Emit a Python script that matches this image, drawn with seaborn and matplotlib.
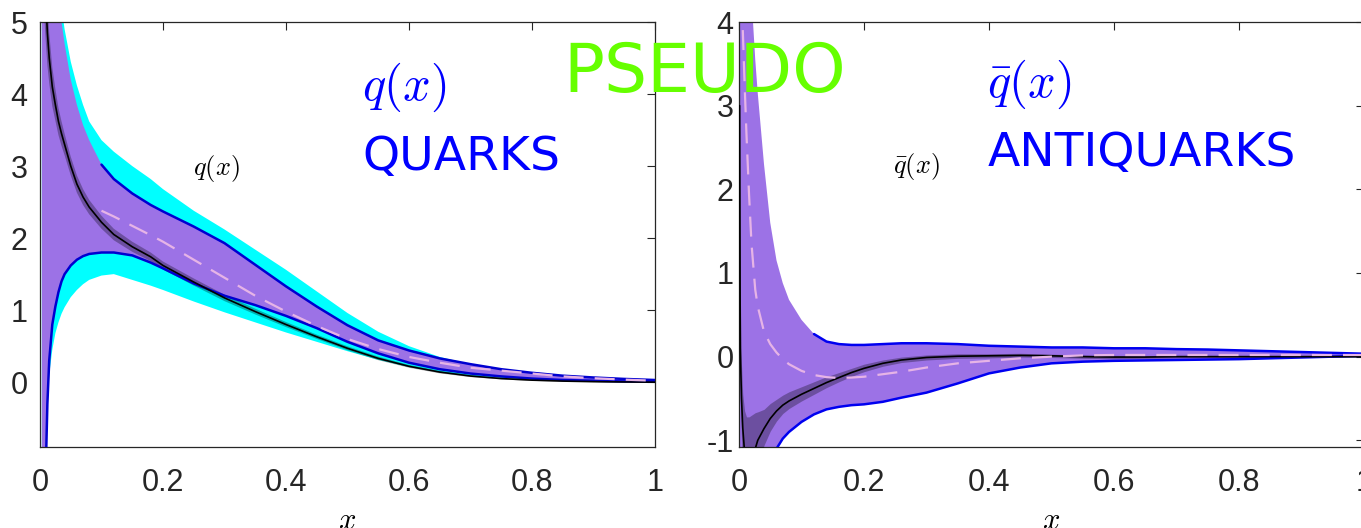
import numpy as np
import matplotlib
matplotlib.use("Agg")
import matplotlib.pyplot as plt
import seaborn as sns

# ---------------- data: left panel (quarks) ----------------
xq = [0.003, 0.006, 0.01, 0.012, 0.015, 0.02, 0.025, 0.03, 0.035, 0.04, 0.05, 0.06, 0.07, 0.08,
      0.10, 0.12, 0.15, 0.18, 0.20, 0.25, 0.30, 0.35, 0.40, 0.45, 0.50, 0.55, 0.60, 0.65, 0.70,
      0.75, 0.80, 0.85, 0.90, 0.95, 1.00]
q_cyan_up = [9.0, 9.0, 9.0, 8.5, 8.0, 7.0, 6.2, 5.6, 5.2, 4.9, 4.45, 4.12, 3.85, 3.62, 3.36, 3.2,
             3.0, 2.82, 2.68, 2.38, 2.12, 1.84, 1.56, 1.26, 0.96, 0.7, 0.5, 0.35, 0.25, 0.18,
             0.125, 0.09, 0.065, 0.047, 0.035]
q_cyan_lo = [-4.0, -3.0, -1.0, -0.4, 0.1, 0.45, 0.68, 0.83, 0.95, 1.04, 1.18, 1.28, 1.36, 1.42,
             1.48, 1.5, 1.42, 1.34, 1.28, 1.12, 0.97, 0.83, 0.69, 0.56, 0.43, 0.31, 0.21, 0.14,
             0.09, 0.06, 0.04, 0.025, 0.015, 0.008, 0.004]
q_purple_up = [9.0, 9.0, 9.0, 8.5, 8.0, 7.0, 6.0, 5.4, 5.0, 4.7, 4.2, 3.85, 3.57, 3.36, 3.02, 2.82,
               2.62, 2.46, 2.37, 2.16, 1.93, 1.63, 1.33, 1.05, 0.79, 0.58, 0.44, 0.33, 0.25, 0.18,
               0.13, 0.09, 0.065, 0.045, 0.03]
q_purple_lo = [-4.0, -3.0, -1.0, -0.3, 0.3, 0.8, 1.05, 1.25, 1.4, 1.5, 1.62, 1.7, 1.75, 1.78, 1.8,
               1.8, 1.76, 1.66, 1.58, 1.37, 1.2, 1.07, 0.92, 0.75, 0.56, 0.4, 0.27, 0.18, 0.12,
               0.08, 0.05, 0.03, 0.02, 0.01, 0.005]
q_black = [7.0, 6.0, 5.2, 4.85, 4.5, 4.1, 3.85, 3.62, 3.45, 3.3, 3.0, 2.75, 2.57, 2.43, 2.22, 2.05,
           1.88, 1.74, 1.62, 1.39, 1.17, 0.98, 0.8, 0.63, 0.47, 0.33, 0.22, 0.14, 0.085, 0.05,
           0.028, 0.015, 0.007, 0.003, 0.0]
q_black_err = [1.0, 0.8, 0.55, 0.45, 0.35, 0.27, 0.22, 0.19, 0.17, 0.15, 0.13, 0.12, 0.11, 0.1,
               0.09, 0.08, 0.07, 0.06, 0.055, 0.05, 0.045, 0.04, 0.035, 0.03, 0.028, 0.025, 0.02,
               0.018, 0.015, 0.012, 0.01, 0.008, 0.006, 0.005, 0.004]
nan = np.nan
q_dashed = [nan] * 14 + [2.38, 2.3, 2.17, 2.04, 1.95, 1.7, 1.45, 1.2, 0.98, 0.78, 0.6, 0.46, 0.35,
                         0.27, 0.2, 0.16, 0.12, 0.08, 0.055, 0.035, 0.02]

# ---------------- data: right panel (antiquarks) ----------------
xa = [0.001, 0.002, 0.004, 0.006, 0.009, 0.012, 0.016, 0.02, 0.026, 0.03, 0.04, 0.05, 0.06, 0.07,
      0.08, 0.10, 0.12, 0.14, 0.16, 0.18, 0.20, 0.23, 0.26, 0.30, 0.35, 0.40, 0.45, 0.50, 0.55,
      0.60, 0.65, 0.70, 0.75, 0.80, 0.85, 0.90, 0.95, 1.00]
a_purple_up = [9.0, 9.0, 8.5, 7.8, 7.0, 6.2, 5.3, 4.3, 3.55, 3.15, 2.3, 1.6, 1.15, 0.88, 0.68,
               0.44, 0.27, 0.18, 0.15, 0.14, 0.14, 0.15, 0.16, 0.16, 0.15, 0.13, 0.12, 0.11, 0.11,
               0.1, 0.1, 0.09, 0.085, 0.075, 0.065, 0.055, 0.045, 0.035]
a_purple_lo = [-4.0, -4.0, -4.0, -4.0, -4.0, -4.0, -4.0, -3.5, -3.0, -2.6, -2.0, -1.4, -1.1, -0.98,
               -0.9, -0.78, -0.69, -0.63, -0.6, -0.58, -0.57, -0.54, -0.49, -0.43, -0.32, -0.2,
               -0.13, -0.08, -0.06, -0.05, -0.045, -0.04, -0.035, -0.03, -0.02, -0.01, 0.0, 0.01]
a_black = [3.0, 0.1, -0.5, -0.85, -1.15, -1.4, -1.5, -1.4, -1.1, -1.0, -0.86, -0.74, -0.65, -0.58,
           -0.53, -0.45, -0.38, -0.31, -0.25, -0.19, -0.14, -0.08, -0.04, -0.01, 0.005, 0.01,
           0.015, 0.01, 0.0, -0.005, -0.005, 0.0, 0.0, 0.0, 0.0, 0.0, 0.0, 0.0]
a_err_up = [1.0, 0.7, 0.4, 0.4, 0.5, 0.68, 0.78, 0.7, 0.43, 0.34, 0.23, 0.18, 0.14, 0.12, 0.11,
            0.09, 0.08, 0.07, 0.06, 0.05, 0.05, 0.04, 0.035, 0.03, 0.03, 0.025, 0.025, 0.02, 0.02,
            0.02, 0.015, 0.015, 0.015, 0.012, 0.012, 0.01, 0.01, 0.01]
a_err_lo = [1.0, 0.6, 0.5, 0.5, 0.5, 0.5, 0.45, 0.4, 0.35, 0.3, 0.2, 0.15, 0.12, 0.1, 0.09, 0.08,
            0.07, 0.06, 0.05, 0.045, 0.04, 0.035, 0.03, 0.03, 0.025, 0.025, 0.02, 0.02, 0.02,
            0.02, 0.015, 0.015, 0.015, 0.012, 0.012, 0.01, 0.01, 0.01]
a_dashed = [nan, nan, 4.4, 3.92, 3.25, 2.65, 1.95, 1.35, 0.8, 0.6, 0.3, 0.15, 0.05, -0.03, -0.09,
            -0.17, -0.22, -0.245, -0.255, -0.25, -0.24, -0.21, -0.18, -0.13, -0.08, -0.05, -0.02,
            0.0, 0.015, 0.02, 0.02, 0.02, 0.02, 0.02, 0.02, 0.02, 0.02, 0.02]

xticks = [0, 0.2, 0.4, 0.6, 0.8, 1.0]
xtick_labels = ["0", "0.2", "0.4", "0.6", "0.8", "1"]
q_yticks = [0, 1, 2, 3, 4, 5]
a_yticks = [-1, 0, 1, 2, 3, 4]

# ---------------- style ----------------
sns.set_theme(style="white")
plt.rcParams["font.family"] = ["DejaVu Sans"]
plt.rcParams["mathtext.fontset"] = "cm"
plt.rcParams["axes.unicode_minus"] = False

CYAN = "#00FFFF"
PURPLE = "#9C72E6"
EDGE = "#0000D0"
PINK = "#E6B4E6"
AX = "#262626"

W, H = 1361, 528
fig = plt.figure(figsize=(W / 100, H / 100), dpi=100)
axL = fig.add_axes([40 / W, (H - 447) / H, 615 / W, 425 / H])
axR = fig.add_axes([739 / W, (H - 447) / H, 625 / W, 425 / H])


def style_axes(ax, yticks, ylim, ypad):
    ax.set_xlim(0, 1)
    ax.set_ylim(*ylim)
    ax.set_xticks(xticks)
    ax.set_xticklabels(xtick_labels)
    ax.set_yticks(yticks)
    ax.set_yticklabels([str(t) for t in yticks])
    ax.tick_params(direction="in", length=6, width=0.8, top=True, right=True,
                   colors=AX, labelsize=22)
    ax.tick_params(axis="x", pad=15)
    ax.tick_params(axis="y", pad=ypad)
    for lab in ax.get_xticklabels() + ax.get_yticklabels():
        lab.set_family("Liberation Sans")
    for s in ax.spines.values():
        s.set_visible(True)
        s.set_color(AX)
        s.set_linewidth(0.9)
    ax.set_xlabel("$x$", fontsize=22, color="black")
    ax.xaxis.set_label_coords(0.5, -0.138)
    ax.xaxis.label.set_va("top")
    ax.grid(False)


# ---------------- left panel ----------------
xq_a = np.array(xq)
axL.fill_between(xq, q_cyan_lo, q_cyan_up, color=CYAN, lw=0, zorder=1)
axL.fill_between(xq, q_purple_lo, q_purple_up, color=PURPLE, lw=0, zorder=2)
axL.fill_between(xq, np.array(q_black) - np.array(q_black_err),
                 np.array(q_black) + np.array(q_black_err), color="black", alpha=0.3, lw=0, zorder=3)
m = xq_a >= 0.1
sns.lineplot(x=xq_a[m], y=np.array(q_purple_up)[m], ax=axL, color=EDGE, lw=1.8, zorder=4)
sns.lineplot(x=xq, y=q_purple_lo, ax=axL, color=EDGE, lw=1.8, zorder=4)
sns.lineplot(x=xq, y=q_black, ax=axL, color="black", lw=1.2, zorder=5)
sns.lineplot(x=xq, y=q_dashed, ax=axL, color=PINK, lw=1.6, linestyle=(0, (9, 5)), zorder=6)
style_axes(axL, q_yticks, (-0.9, 5.0), 9)

axL.text(0.524, 3.92, "$q(x)$", color="blue", fontsize=35, va="baseline", ha="left")
axL.text(0.524, 2.94, "QUARKS", color="blue", fontsize=34, va="baseline", ha="left",
         family="DejaVu Sans")
axL.text(0.248, 2.88, "$q(x)$", color="black", fontsize=19, va="baseline", ha="left")

# ---------------- right panel ----------------
xa_a = np.array(xa)
axR.fill_between(xa, a_purple_lo, a_purple_up, color=PURPLE, lw=0, zorder=2)
axR.fill_between(xa, np.array(a_black) - np.array(a_err_lo),
                 np.array(a_black) + np.array(a_err_up), color="black", alpha=0.3, lw=0, zorder=3)
m = xa_a >= 0.12
sns.lineplot(x=xa_a[m], y=np.array(a_purple_up)[m], ax=axR, color="#0000F0", lw=1.8, zorder=4)
sns.lineplot(x=xa, y=a_purple_lo, ax=axR, color="#0000F0", lw=1.8, zorder=4)
sns.lineplot(x=xa, y=a_black, ax=axR, color="black", lw=1.2, zorder=5)
sns.lineplot(x=xa, y=a_dashed, ax=axR, color=PINK, lw=1.6, linestyle=(0, (9, 5)), zorder=6)
style_axes(axR, a_yticks, (-1.08, 4.0), 4)

axR.text(0.397, 3.1, r"$\bar{q}(x)$", color="blue", fontsize=35, va="baseline", ha="left")
axR.text(0.397, 2.28, "ANTIQUARKS", color="blue", fontsize=34, va="baseline", ha="left",
         family="DejaVu Sans")
axR.text(0.246, 2.2, r"$\bar{q}(x)$", color="black", fontsize=19, va="baseline", ha="left")

fig.text(563 / W, 1 - 92 / H, "PSEUDO", color="#66FF00", fontsize=49, va="baseline",
         ha="left", family="DejaVu Sans")

fig.savefig("out.png", dpi=100)
